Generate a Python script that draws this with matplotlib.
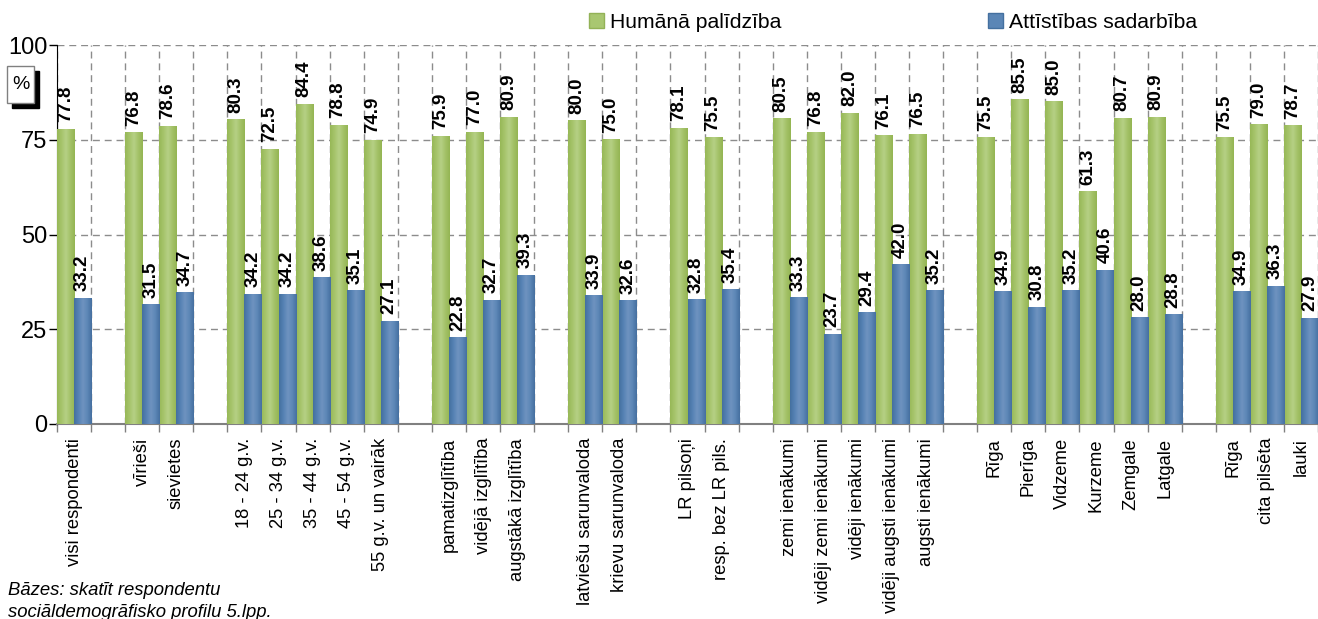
import numpy as np
import matplotlib
matplotlib.use("Agg")
import matplotlib.pyplot as plt
from matplotlib.patches import Rectangle, Patch
from matplotlib.ticker import FixedLocator
from matplotlib.colors import LinearSegmentedColormap

plt.rcParams['font.family'] = ['Liberation Sans', 'DejaVu Sans']

nan = np.nan
# empty strings / nan are the gaps between groups
labels = ["visi respondenti", "",
          "vīrieši", "sievietes", "",
          "18 - 24 g.v.", "25 - 34 g.v.", "35 - 44 g.v.", "45 - 54 g.v.", "55 g.v. un vairāk", "",
          "pamatizglītība", "vidējā izglītība", "augstākā izglītība", "",
          "latviešu sarunvaloda", "krievu sarunvaloda", "",
          "LR pilsoņi", "resp. bez LR pils.", "",
          "zemi ienākumi", "vidēji zemi ienākumi", "vidēji ienākumi", "vidēji augsti ienākumi", "augsti ienākumi", "",
          "Rīga", "Pierīga", "Vidzeme", "Kurzeme", "Zemgale", "Latgale", "",
          "Rīga", "cita pilsēta", "lauki"]
humana = [77.8, nan,
          76.8, 78.6, nan,
          80.3, 72.5, 84.4, 78.8, 74.9, nan,
          75.9, 77.0, 80.9, nan,
          80.0, 75.0, nan,
          78.1, 75.5, nan,
          80.5, 76.8, 82.0, 76.1, 76.5, nan,
          75.5, 85.5, 85.0, 61.3, 80.7, 80.9, nan,
          75.5, 79.0, 78.7]
attistibas = [33.2, nan,
              31.5, 34.7, nan,
              34.2, 34.2, 38.6, 35.1, 27.1, nan,
              22.8, 32.7, 39.3, nan,
              33.9, 32.6, nan,
              32.8, 35.4, nan,
              33.3, 23.7, 29.4, 42.0, 35.2, nan,
              34.9, 30.8, 35.2, 40.6, 28.0, 28.8, nan,
              34.9, 36.3, 27.9]
series_names = ["Humānā palīdzība", "Attīstības sadarbība"]

green = "#a9c771"
green_cm = LinearSegmentedColormap.from_list("g", ["#97b857", "#a6c46b", "#b6d085", "#a4c268", "#94b553"])
blue = "#5b86b6"
blue_cm = LinearSegmentedColormap.from_list("b", ["#44709f", "#5682b4", "#6f93c0", "#5d87b6", "#456fa0"])
grid_col = "#8c8c8c"

W, H = 1318, 619
fig = plt.figure(figsize=(W / 100, H / 100), dpi=100)
ax = fig.add_axes([57 / W, 195 / H, (W - 57) / W, (424 - 45) / H])

x = np.arange(len(labels))
grad = np.linspace(0, 1, 64).reshape(1, -1)
for offs, vals, col, cm in ((-0.25, humana, green, green_cm), (0.25, attistibas, blue, blue_cm)):
    bars = ax.bar(x + offs, vals, width=0.5, color=col, linewidth=0, zorder=3)
    # horizontal shading like the original
    for b in bars:
        h = b.get_height()
        if np.isnan(h):
            continue
        x0 = b.get_x()
        ax.imshow(grad, cmap=cm, extent=(x0, x0 + b.get_width(), 0, h), aspect="auto",
                  clip_path=b, zorder=3.1, interpolation="bilinear")
    for xi, v in zip(x + offs, vals):
        if np.isnan(v):
            continue
        ax.annotate(f"{v:.1f}", (xi, v), xytext=(0, 5), textcoords="offset points",
                    rotation=90, ha="center", va="bottom", fontsize=13.5,
                    fontweight="bold", zorder=4)

ax.set_xlim(-0.5, len(labels) - 0.5)
ax.set_ylim(0, 100)
ax.set_aspect("auto")
ax.set_yticks([0, 25, 50, 75, 100])
ax.tick_params(axis="y", labelsize=17, length=6, width=1, pad=1, color="black")

ax.set_xticks(x)
ax.set_xticklabels(labels, rotation=90, ha="center", va="top", fontsize=13.2)
ax.xaxis.set_minor_locator(FixedLocator(np.arange(len(labels) + 1) - 0.5))
ax.tick_params(axis="x", which="major", length=0, pad=10)
ax.tick_params(axis="x", which="minor", length=6, width=1, color="#808080")

ax.grid(True, axis="y", which="major", color=grid_col, linestyle=(0, (5, 3.5)), linewidth=1, zorder=0)
ax.grid(True, axis="x", which="minor", color=grid_col, linestyle=(0, (5, 3.5)), linewidth=1, zorder=0)
ax.grid(False, axis="x", which="major")
ax.set_axisbelow(True)

for s in ("top", "right"):
    ax.spines[s].set_visible(False)
ax.spines["left"].set_color("black")
ax.spines["bottom"].set_color("#808080")
ax.spines["bottom"].set_linewidth(1.5)

# "%" box with shadow
fig.patches.append(Rectangle((12 / W, 1 - 108 / H), 27 / W, 37 / H, transform=fig.transFigure,
                             facecolor="black", edgecolor="black"))
fig.patches.append(Rectangle((7 / W, 1 - 103 / H), 27 / W, 37 / H, transform=fig.transFigure,
                             facecolor="white", edgecolor="#808080", linewidth=1))
fig.text(20.5 / W, 1 - 84.5 / H, "%", ha="center", va="center", fontsize=14)

handles = [Patch(facecolor=green, edgecolor="#93b257"), Patch(facecolor=blue, edgecolor="#44709f")]
fig.legend(handles, series_names, loc="upper left", bbox_to_anchor=(589 / W, 1 - 13 / H),
           ncol=2, frameon=False, fontsize=15.2, handlelength=0.7, handleheight=0.7,
           handletextpad=0.3, columnspacing=9.8, borderpad=0, borderaxespad=0)

fig.text(8 / W, 1 - 582 / H, "Bāzes: skatīt respondentu\nsociāldemogrāfisko profilu 5.lpp.",
         ha="left", va="top", fontsize=13.3, style="italic", linespacing=1.35)

fig.savefig("out.png", dpi=100)
